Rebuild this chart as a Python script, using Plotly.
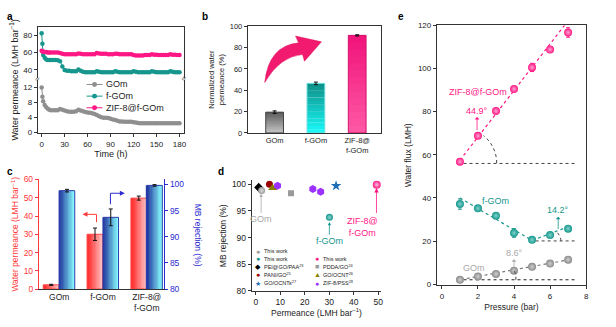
import plotly.graph_objects as go

W, H = 616, 327
def px(x): return x / W
def py(y): return 1 - y / H

FONT = "Liberation Sans, Arial, sans-serif"
GRAY = "#8f8f8f"; TEAL = "#16968c"; PINK = "#ff1685"
RED = "#ff3a3a"; BLUE = "#2b2bd0"

# ---------------- data: panel a ----------------
time_h = [0, 1, 2, 4, 6, 8, 10, 12, 15, 18, 21, 24, 27, 30, 33, 36, 39, 42, 45, 48, 51, 54, 57, 60,
          63, 66, 69, 72, 75, 78, 81, 84, 87, 90, 93, 96, 99, 102, 105, 108, 111, 114, 117, 120,
          123, 126, 129, 132, 135, 138, 141, 144, 147, 150, 153, 156, 159, 162, 165, 168, 171,
          174, 177, 180]
gom_perm = [12.0, 9.5, 8.3, 7.3, 6.7, 6.3, 6.0, 5.9,
            5.9, 5.9, 5.9, 6.2, 6.0, 5.8, 5.6, 5.5, 5.5, 5.5,
            5.6, 6.0, 5.8, 5.6, 5.4, 5.3, 5.2, 5.1, 4.9, 4.6,
            4.3, 4.0, 3.9, 3.9, 3.8, 3.6, 3.4, 3.3, 3.1, 2.9,
            2.9, 2.8, 2.8, 2.8, 2.8, 2.7, 2.6, 2.5, 2.4, 2.4,
            2.4, 2.4, 2.4, 2.4, 2.4, 2.4, 2.4, 2.4, 2.4, 2.4,
            2.4, 2.4, 2.4, 2.4, 2.4, 2.4]
fgom_perm = [82, 70, 57, 54, 52, 51.5, 51.5, 51.5,
             51.5, 51.5, 51, 50, 44, 40, 39, 39, 38.5, 38.5,
             38.5, 40.5, 39, 38, 37.5, 37.5, 37.5, 37.5, 37.5, 38.5,
             38, 37.5, 37.5, 37.5, 37.5, 37.5, 37.5, 38.5, 38, 37.5,
             37.5, 37.5, 37.5, 37.5, 37.5, 38.5, 38, 37.5, 37.5, 37.5,
             37.5, 37.5, 37.5, 38.5, 38, 37.5, 37.5, 37.5, 37.5, 37.5,
             37.5, 38.5, 38, 37.5, 37.5, 37.5]
zif_perm = [62, 61.5, 61, 60.5, 60.5, 60, 60, 60,
            60, 60, 60, 59.5, 58.5, 58, 58, 58, 58, 58,
            58, 59, 58.5, 58, 58, 58, 58, 58, 58, 59.5,
            59, 58.5, 58.5, 58.5, 58, 58, 58, 58.5, 58.5, 58,
            58, 58, 58, 58, 58, 57, 56.5, 56.5, 56.5, 56.5,
            57, 57, 57, 58, 57.5, 57.5, 57, 57, 57, 57,
            57, 58, 57.5, 57.5, 57, 57]

# ---------------- data: panel b ----------------
b_cats = ["GOm", "f-GOm", "ZIF-8@<br>f-GOm"]
b_norm = [19.5, 46.5, 91.5]
b_err = [1.2, 1.2, 0.6]

# ---------------- data: panel c ----------------
c_cats = ["GOm", "f-GOm", "ZIF-8@<br>f-GOm"]
c_perm = [2.3, 30.0, 49.8]
c_perm_err = [0.3, 3.4, 1.1]
c_rej = [98.8, 93.7, 99.8]
c_rej_err = [0.25, 1.6, 0.15]

# ---------------- data: panel d ----------------
d_gom_x, d_gom_y = [2.4], [98.8]
d_fgom_x, d_fgom_y = [30.1], [93.8]
d_zif_x, d_zif_y = [49.4], [99.9]
d_pei_x, d_pei_y = [1.2], [99.4]
d_pani_x, d_pani_y = [5.6], [100.0]
d_ocnts_x, d_ocnts_y = [32.8], [99.7]
d_pdda_x, d_pdda_y = [14.4], [98.3]
d_ocnt_x, d_ocnt_y = [6.9], [99.3]
d_pss_x, d_pss_y = [8.9, 23.3, 26.5], [99.7, 99.1, 98.6]

# ---------------- data: panel e ----------------
pressure = [1, 2, 3, 4, 5, 6, 7]
e_gom = [2.1, 3.6, 4.8, 6.3, 8.1, 9.6, 11.4]
e_gom_err = [0.3, 0.3, 0.3, 0.4, 0.3, 0.3, 0.3]
e_fgom = [37.2, 35.2, 31.8, 23.8, 20.6, 22.8, 25.8]
e_fgom_err = [2.4, 1.2, 0.6, 2.0, 0.8, 0.6, 0.6]
e_zif = [56.8, 68.8, 80.3, 90.5, 100.5, 108.8, 116.7]
e_zif_err = [0.5, 0.8, 0.6, 0.6, 1.9, 0.6, 2.2]
zif_guide_x, zif_guide_y = [1.0, 6.8], [57.5, 120.0]
fgom_guide_x, fgom_guide_y = [1.0, 5.0, 7.1], [40.0, 20.3, 27.0]
gom_guide_x, gom_guide_y = [1.05, 7.07], [2.2, 11.4]
zif_base_x, zif_base_y = [1.2, 7.4], [56.0, 56.0]
fgom_base_x, fgom_base_y = [5.2, 7.4], [20.1, 20.1]
gom_base_x, gom_base_y = [1.2, 7.5], [2.1, 2.1]


def hex2rgb(h):
    h = h.lstrip("#")
    return tuple(int(h[i:i + 2], 16) for i in (0, 2, 4))


def mix(c0, c1, t):
    a, b = hex2rgb(c0), hex2rgb(c1)
    return "rgb(%d,%d,%d)" % tuple(round(a[i] + (b[i] - a[i]) * t) for i in range(3))


fig = go.Figure()

# ---------- panel a ----------
mk = dict(size=4.5)
fig.add_trace(go.Scatter(x=time_h, y=gom_perm, mode="lines+markers", xaxis="x", yaxis="y",
                         line=dict(color=GRAY, width=1), marker=dict(color=GRAY, **mk), showlegend=False))
fig.add_trace(go.Scatter(x=time_h, y=fgom_perm, mode="lines+markers", xaxis="x2", yaxis="y2",
                         line=dict(color=TEAL, width=1), marker=dict(color=TEAL, **mk), showlegend=False))
fig.add_trace(go.Scatter(x=time_h, y=zif_perm, mode="lines+markers", xaxis="x2", yaxis="y2",
                         line=dict(color=PINK, width=1), marker=dict(color=PINK, **mk), showlegend=False))


# ---------- gradient bar helper ----------
def grad_bars(xa, ya, cats, vals, width, offset, c0s, c1s, n, vertical, line_colors, err):
    for i in range(n):
        t = (i + 0.5) / n
        if vertical:
            cols = [mix(c1s[k], c0s[k], t) for k in range(len(cats))]
            fig.add_trace(go.Bar(x=cats, y=[v / n * 1.04 for v in vals], base=[v * i / n for v in vals],
                                 width=width, offset=offset, xaxis=xa, yaxis=ya,
                                 marker=dict(color=cols, line=dict(width=0)), showlegend=False,
                                 hoverinfo="skip"))
        else:
            cols = [mix(c0s[k], c1s[k], t) for k in range(len(cats))]
            fig.add_trace(go.Bar(x=cats, y=vals, width=width / n * 1.08, offset=offset + i * width / n,
                                 xaxis=xa, yaxis=ya,
                                 marker=dict(color=cols, line=dict(width=0)), showlegend=False,
                                 hoverinfo="skip"))
    fig.add_trace(go.Bar(x=cats, y=vals, width=width, offset=offset, xaxis=xa, yaxis=ya,
                         marker=dict(color="rgba(0,0,0,0)", line=dict(color=line_colors, width=1)),
                         error_y=dict(type="data", array=err, color="#111", thickness=1, width=2),
                         showlegend=False))


# ---------- panel b ----------
grad_bars("x3", "y3", b_cats, b_norm, 0.43, -0.215,
          ["#5c5c5c", "#0e8f86", "#f0127a"], ["#c9c9c9", "#19fbfb", "#ff5aa6"], 14, True,
          ["#444444", "#6fdede", "#d4146c"], b_err)

# ---------- panel c ----------
grad_bars("x4", "y4", c_cats, c_perm, 0.355, -0.36,
          ["#ff1c1c"] * 3, ["#ffc4c4"] * 3, 12, False, ["#ff4a4a"] * 3, c_perm_err)
grad_bars("x4", "y5", c_cats, c_rej, 0.355, 0.0,
          ["#1b2a98"] * 3, ["#8affff"] * 3, 12, False, ["#3040b0"] * 3, c_rej_err)

# ---------- panel d ----------
def dpts(x, y, color, symbol, size=7, grad=None):
    m = dict(color=color, symbol=symbol, size=size, line=dict(width=0))
    if grad:
        m["gradient"] = dict(type="radial", color=grad)
    fig.add_trace(go.Scatter(x=x, y=y, mode="markers", xaxis="x5", yaxis="y6", marker=m, showlegend=False))

dpts(d_pei_x, d_pei_y, "#000000", "diamond", 7)
dpts(d_gom_x, d_gom_y, "#9a9a9a", "circle", 7, "#dcdcdc")
dpts(d_pani_x, d_pani_y, "#9b0000", "circle", 7)
dpts(d_ocnt_x, d_ocnt_y, "#8a8000", "triangle-up", 8)
dpts(d_pss_x, d_pss_y, "#9b30ff", "hexagon", 8)
dpts(d_pdda_x, d_pdda_y, "#9a9a9a", "square", 6)
dpts(d_fgom_x, d_fgom_y, TEAL, "circle", 7, "#8fd8d2")
dpts(d_ocnts_x, d_ocnts_y, "#1f6db5", "star", 8)
dpts(d_zif_x, d_zif_y, PINK, "circle", 8, "#ffc0dc")

# ---------- panel e ----------
fig.add_trace(go.Scatter(x=zif_base_x, y=zif_base_y, mode="lines", xaxis="x6", yaxis="y7",
                         line=dict(color="#444", width=1, dash="dot"), showlegend=False))
fig.add_trace(go.Scatter(x=fgom_base_x, y=fgom_base_y, mode="lines", xaxis="x6", yaxis="y7",
                         line=dict(color="#444", width=1, dash="dot"), showlegend=False))
fig.add_trace(go.Scatter(x=gom_base_x, y=gom_base_y, mode="lines", xaxis="x6", yaxis="y7",
                         line=dict(color="#222", width=1, dash="dot"), showlegend=False))
fig.add_trace(go.Scatter(x=zif_guide_x, y=zif_guide_y, mode="lines", xaxis="x6", yaxis="y7",
                         line=dict(color=PINK, width=1.2, dash="dot"), showlegend=False))
fig.add_trace(go.Scatter(x=fgom_guide_x, y=fgom_guide_y, mode="lines", xaxis="x6", yaxis="y7",
                         line=dict(color=TEAL, width=1.2, dash="dot"), showlegend=False))
fig.add_trace(go.Scatter(x=gom_guide_x, y=gom_guide_y, mode="lines", xaxis="x6", yaxis="y7",
                         line=dict(color="#777", width=1.2, dash="dot"), showlegend=False))
for yv, er, col, gc in [(e_gom, e_gom_err, "#8a8a8a", "#cfcfcf"), (e_fgom, e_fgom_err, TEAL, "#7fd4cc"),
                        (e_zif, e_zif_err, PINK, "#ffa6d0")]:
    fig.add_trace(go.Scatter(x=pressure, y=yv, mode="markers", xaxis="x6", yaxis="y7",
                             error_y=dict(type="data", array=er, color=col, thickness=1, width=2),
                             marker=dict(color=col, size=8, line=dict(width=0),
                                         gradient=dict(type="radial", color=gc)),
                             showlegend=False))

# ---------- axes ----------
def axstyle(**kw):
    d = dict(showline=True, linecolor="#333", linewidth=1, ticks="outside", ticklen=3, tickwidth=1,
             tickcolor="#333", showgrid=False, zeroline=False, tickfont=dict(size=8, color="#222"))
    d.update(kw)
    return d

lay = dict(
    width=W, height=H, margin=dict(l=0, r=0, t=0, b=0), paper_bgcolor="white", plot_bgcolor="white",
    font=dict(family=FONT, size=8, color="#222"), barmode="overlay", showlegend=False,
    # panel a
    xaxis=axstyle(domain=[px(38), px(185)], anchor="y", range=[-5, 186], tickvals=[0, 30, 60, 90, 120, 150, 180],
                  title=dict(text="Time (h)", font=dict(size=9), standoff=2)),
    yaxis=axstyle(domain=[py(132), py(77)], anchor="x", range=[-0.18, 14.07], tickvals=[0, 4, 8, 12], mirror=True),
    xaxis2=axstyle(domain=[px(38), px(185)], anchor="y2", matches="x", side="top", showticklabels=False, ticks=""),
    yaxis2=axstyle(domain=[py(75), py(23)], anchor="x2", range=[31.1, 88.9], tickvals=[40, 60, 80], mirror=True),
    # panel b
    xaxis3=axstyle(domain=[px(249), px(383)], anchor="y3", range=[-0.65, 2.58], ticks="", mirror=True,
                   tickfont=dict(size=7.5, color="#222")),
    yaxis3=axstyle(domain=[py(132), py(22)], anchor="x3", range=[0, 100], dtick=20, mirror=True,
                   tickfont=dict(size=7.5, color="#222"),
                   title=dict(text="Normalized water<br>permeance (%)", font=dict(size=7.5), standoff=4)),
    # panel c
    xaxis4=axstyle(domain=[px(39), px(165)], anchor="y4", range=[-0.466, 2.398], ticks="",
                   tickfont=dict(size=8.5, color="#222")),
    yaxis4=axstyle(domain=[py(293), py(180)], anchor="x4", range=[0, 60], dtick=10, linecolor=RED, tickcolor=RED,
                   tickfont=dict(size=8.5, color=RED),
                   title=dict(text="Water permeance (LMH bar<sup>−1</sup>)", font=dict(size=8.5, color=RED), standoff=3)),
    yaxis5=axstyle(domain=[py(293), py(180)], anchor="x4", overlaying="y4", side="right", range=[80, 100.93], dtick=5,
                   linecolor=BLUE, tickcolor=BLUE, tickfont=dict(size=8.5, color=BLUE)),
    # panel d
    xaxis5=axstyle(domain=[px(253), px(383)], anchor="y6", range=[-1.63, 51.2], dtick=10,
                   tickfont=dict(size=8.5, color="#222"),
                   title=dict(text="Permeance (LMH bar<sup>−1</sup>)", font=dict(size=8.5), standoff=2)),
    yaxis6=axstyle(domain=[py(295), py(181)], anchor="x5", range=[80, 100.7], dtick=5,
                   tickfont=dict(size=8.5, color="#222"),
                   title=dict(text="MB rejection (%)", font=dict(size=8.5), standoff=3)),
    # panel e
    xaxis6=axstyle(domain=[px(439), px(589)], anchor="y7", range=[-0.28, 8], dtick=2, mirror=True,
                   tickfont=dict(size=8, color="#222"),
                   title=dict(text="Pressure (bar)", font=dict(size=8.5), standoff=4)),
    yaxis7=axstyle(domain=[py(289), py(21)], anchor="x6", range=[-0.4, 120], dtick=20, mirror=True,
                   tickfont=dict(size=8, color="#222"),
                   title=dict(text="Water flux (LMH)", font=dict(size=8.5), standoff=4)),
)
fig.update_layout(**lay)

ann = []
shapes = []


def head(xref, yref, x, y, direction, color, size=5.0):
    # arrowhead drawn in pixel units around a data-anchored tip
    h, w = size, size * 0.5
    paths = {"left": "M 0,0 L %g,%g L %g,%g Z" % (h, w, h, -w),
             "right": "M 0,0 L %g,%g L %g,%g Z" % (-h, w, -h, -w),
             "up": "M 0,0 L %g,%g L %g,%g Z" % (-w, -h, w, -h)}
    shapes.append(dict(type="path", xref=xref, yref=yref, xsizemode="pixel", ysizemode="pixel",
                       xanchor=x, yanchor=y, path=paths[direction], fillcolor=color, line=dict(width=0)))


# panel letters
for t, x, y in [("a", 10, 12), ("b", 206, 12), ("c", 10, 172), ("d", 222, 172), ("e", 403, 12)]:
    ann.append(dict(text="<b>%s</b>" % t, x=px(x), y=py(y), xref="paper", yref="paper", showarrow=False,
                    font=dict(size=10, color="#000"), xanchor="center", yanchor="middle"))

# panel a: y title, break marks, legend
ann.append(dict(text="Water permeance (LMH bar<sup>−1</sup>)", x=px(14), y=py(77), xref="paper", yref="paper",
                showarrow=False, textangle=-90, font=dict(size=9), xanchor="center", yanchor="middle"))
for xx in (38, 185):
    ann.append(dict(text="≈", x=px(xx), y=py(76), xref="paper", yref="paper", showarrow=False, textangle=-60,
                    font=dict(size=8, color="#333"), xanchor="center", yanchor="middle"))
for name, col, yy in [("GOm", GRAY, 82), ("f-GOm", TEAL, 94), ("ZIF-8@f-GOm", PINK, 106)]:
    shapes.append(dict(type="line", xref="paper", yref="paper", x0=px(87), x1=px(103), y0=py(yy), y1=py(yy),
                       line=dict(color=col, width=1)))
    shapes.append(dict(type="circle", xref="paper", yref="paper", x0=px(92.5), x1=px(97.5), y0=py(yy + 2.5),
                       y1=py(yy - 2.5), fillcolor=col, line=dict(width=0)))
    ann.append(dict(text=name, x=px(105), y=py(yy), xref="paper", yref="paper", showarrow=False,
                    xanchor="left", yanchor="middle", font=dict(size=9, color="#222")))

# panel b: curved arrow
def pth(pts):
    s = ""
    for cmd, coords in pts:
        s += cmd + " " + " ".join("%.5f,%.5f" % (px(a), py(b)) for a, b in coords) + " "
    return s + "Z"

arrow_path = pth([("M", [(266, 80)]), ("Q", [(270, 42), (300, 39)]), ("L", [(297, 32)]), ("L", [(323, 38)]),
                  ("L", [(306, 58)]), ("L", [(304, 51)]), ("Q", [(281, 53), (266, 80)])])
shapes.append(dict(type="path", xref="paper", yref="paper", path=arrow_path, fillcolor="#f21a6e",
                   line=dict(color="#e0125f", width=0.5)))

# panel c: bent arrows and right title
shapes.append(dict(type="line", xref="x4", yref="y4", x0=0.852, x1=0.852, y0=36.6, y1=40.9,
                   line=dict(color=RED, width=1)))
shapes.append(dict(type="line", xref="x4", yref="y4", x0=0.852, x1=0.6, y0=40.9, y1=40.9,
                   line=dict(color=RED, width=1)))
head("x4", "y4", 0.53, 40.9, "left", RED)
shapes.append(dict(type="line", xref="x4", yref="y5", x0=1.17, x1=1.17, y0=96.2, y1=98.3,
                   line=dict(color=BLUE, width=1)))
shapes.append(dict(type="line", xref="x4", yref="y5", x0=1.17, x1=1.43, y0=98.3, y1=98.3,
                   line=dict(color=BLUE, width=1)))
head("x4", "y5", 1.5, 98.3, "right", BLUE)
ann.append(dict(text="MB rejection (%)", x=px(199), y=py(237), xref="paper", yref="paper", showarrow=False,
                textangle=90, font=dict(size=8.5, color=BLUE), xanchor="center", yanchor="middle"))

# panel d: labels with arrows, legend
ann.append(dict(text="GOm", x=2.2, y=98.2, ax=2.2, ay=93.4, xref="x5", yref="y6", axref="x5", ayref="y6",
                showarrow=True, arrowhead=2, arrowsize=0.8, arrowwidth=0.8, arrowcolor="#a8a8a8",
                font=dict(size=9, color="#a8a8a8")))
ann.append(dict(text="f-GOm", x=30.1, y=92.9, ax=30.0, ay=89.3, xref="x5", yref="y6", axref="x5", ayref="y6",
                showarrow=True, arrowhead=2, arrowsize=0.8, arrowwidth=0.8, arrowcolor=TEAL,
                font=dict(size=9, color=TEAL)))
ann.append(dict(text="ZIF-8@<br>f-GOm", x=43.5, y=92.0, xref="x5", yref="y6", showarrow=False,
                font=dict(size=9, color=PINK), xanchor="center", yanchor="middle"))
shapes.append(dict(type="line", xref="x5", yref="y6", x0=49.3, x1=49.3, y0=94.6, y1=98.6,
                   line=dict(color=PINK, width=0.8)))
head("x5", "y6", 49.3, 99.3, "up", PINK, 4.5)
leg_left = [("●", "#9a9a9a", "This work", 254), ("●", TEAL, "This work", 262),
            ("◆", "#000", "PEI@GO/PAA<sup>23</sup>", 270), ("●", "#9b0000", "PANI/GO<sup>25</sup>", 278.5),
            ("★", "#1f6db5", "GO/OCNTs<sup>27</sup>", 287)]
leg_right = [("●", PINK, "This work", 262), ("■", "#9a9a9a", "PDDA/GO<sup>24</sup>", 270),
             ("▲", "#8a8000", "GO/OCNT<sup>26</sup>", 278.5), ("●", "#9b30ff", "ZIF-8/PSS<sup>28</sup>", 287)]
for items, xx in [(leg_left, 259), (leg_right, 319)]:
    for sym, col, txt, yy in items:
        ann.append(dict(text=sym, x=px(xx), y=py(yy), xref="paper", yref="paper", showarrow=False,
                        xanchor="center", yanchor="middle", font=dict(size=7, color=col)))
        ann.append(dict(text=txt, x=px(xx + 4), y=py(yy), xref="paper", yref="paper", showarrow=False,
                        xanchor="left", yanchor="middle", font=dict(size=5.5, color="#222")))

# panel e: labels, angle labels with arrows, arcs
for txt, col, x, y in [("ZIF-8@f-GOm", PINK, 2.0, 89), ("f-GOm", TEAL, 3.0, 38.8), ("GOm", "#a8a8a8", 1.8, 7.6)]:
    ann.append(dict(text=txt, x=x, y=y, xref="x6", yref="y7", showarrow=False, font=dict(size=9, color=col),
                    xanchor="center", yanchor="middle"))
for txt, col, x, y0, ly in [("44.9°", PINK, 1.95, 71.5, 80.5), ("14.2°", TEAL, 6.45, 25.6, 34.3),
                            ("8.6°", "#a8a8a8", 4.0, 7.4, 14.6)]:
    ann.append(dict(text=txt, x=x, y=y0, ax=x, ay=ly, xref="x6", yref="y7", axref="x6", ayref="y7",
                    showarrow=True, arrowside="start", arrowhead=2, arrowsize=0.8, arrowwidth=0.8,
                    arrowcolor=col, font=dict(size=9, color=col)))
for p in ["M 3.04,56.2 C 3.04,61.1 2.77,65.8 2.31,68.9",
          "M 6.6,20.1 C 6.6,21.8 6.5,23.2 6.35,24.4",
          "M 4.1,2.1 C 4.12,3.7 4.08,5.3 4.0,6.7"]:
    shapes.append(dict(type="path", xref="x6", yref="y7", path=p, line=dict(color="#444", width=1, dash="dot")))

fig.update_layout(annotations=ann, shapes=shapes)
fig.write_html("out.html")
